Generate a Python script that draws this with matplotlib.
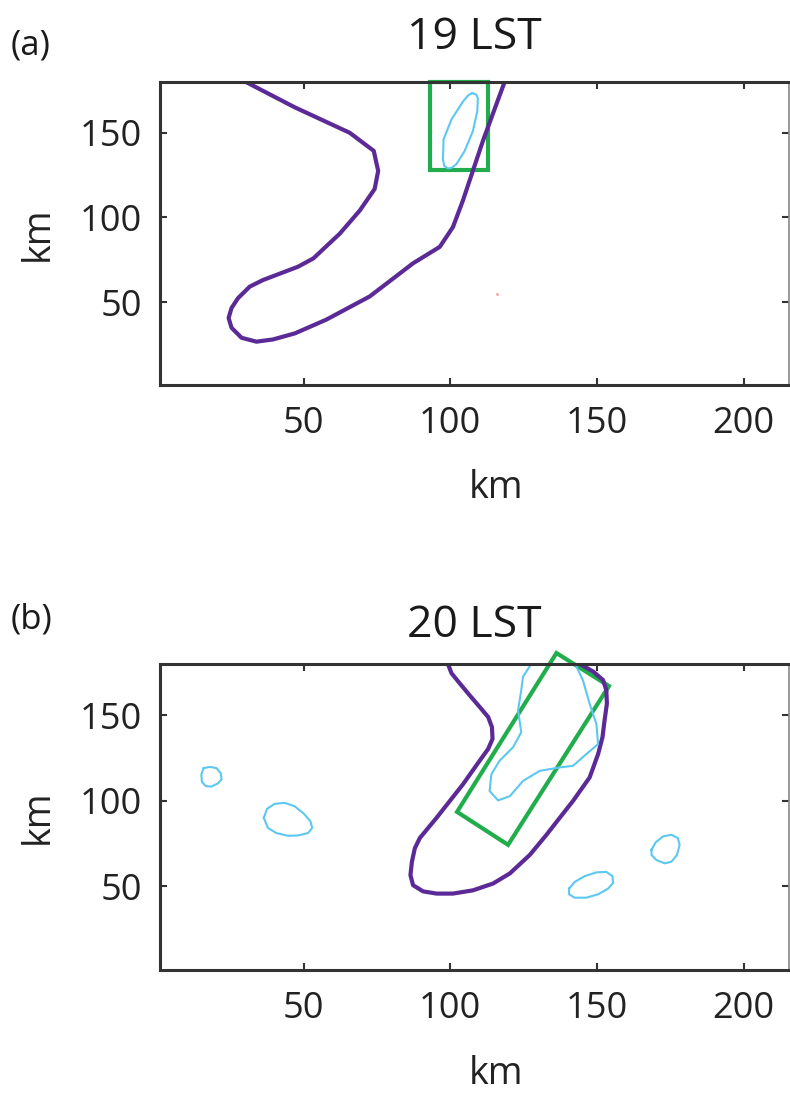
import matplotlib
matplotlib.use("Agg")
import matplotlib.pyplot as plt
from matplotlib.patches import Polygon

plt.rcParams['font.family'] = ['Open Sans', 'DejaVu Sans']

# ---- data (km) ----
xticks = [50, 100, 150, 200]
yticks = [50, 100, 150]

# (a) 19 LST
a_purple_x = [30.3, 47, 65.7, 73.9, 75.4, 74.2, 69.1, 62.3, 53.3, 48.1, 36.1, 31.6, 27.6, 25.4,
              24.4, 25.4, 28.8, 33.9, 39.5, 47.0, 57.7, 72.5, 87.3, 96.4, 100.9, 104.3, 111.1, 118.5]
a_purple_y = [180, 165, 150, 139.3, 127.5, 116.8, 104, 90.4, 75.8, 70.9, 63, 59.1, 52.3, 46.5,
              40.6, 34.8, 28.9, 26.6, 27.9, 31.5, 39.6, 53.3, 72.9, 82.6, 94.3, 110, 145.1, 180]
a_blue_x = [107.5, 108.8, 109.4, 109.2, 107.7, 104.9, 102.1, 100.5, 99.2, 97.9, 97.5, 97.7,
            100.4, 104.3, 106.2, 107.5]
a_blue_y = [173.4, 172.6, 170.5, 162.7, 151.0, 139.3, 131.5, 129.3, 128.9, 130.5, 134.4, 146.1,
            157.9, 168.4, 172.3, 173.4]
a_box_x = [93, 113, 113, 93]
a_box_y = [128, 128, 180, 180]
a_dot = (116, 54.7)

# (b) 20 LST
b_purple_x = [99.2, 100.4, 103.2, 106.6, 110, 112.9, 114.2, 114.4, 112.9, 110, 104.3, 95.3,
              89.6, 87.9, 86.9, 86.4, 87.3, 90.7, 95.3, 100.9, 107.7, 114.6, 120.3, 127.1,
              132.8, 137.3, 141.8, 147.5, 150.4, 151.9, 152.6, 153.4, 153.2, 152.1, 148.7, 144.1]
b_purple_y = [180, 174.6, 168.7, 161.7, 154.9, 149, 143.1, 136.2, 130.3, 123.4, 109.6, 90,
              78.2, 72.2, 64.3, 56.5, 50.6, 47, 45.7, 45.7, 47.6, 51.6, 57.5, 68.3,
              80.1, 90, 99.8, 113.6, 127.3, 137.2, 147, 156.8, 164.7, 170.6, 175.6, 180]
b_blue_main_x = [127.6, 124.8, 124.2, 123.1, 124.2, 121.4, 116.8, 114, 113.4, 116.3, 120.3, 124.8,
                 130.5, 137.3, 141.8, 146.4, 150.4, 149.8, 147.5, 145.2, 143.0, 142.5]
b_blue_main_y = [180, 172.6, 164.7, 152.9, 140.1, 131.3, 123.4, 115.5, 105.7, 100.2, 102.7, 111.6,
                 117.5, 119.5, 120.4, 127.3, 133.2, 145, 156.8, 170.6, 178.5, 180]
b_blob1_x = [15.9, 18.0, 20.3, 21.7, 22.0, 20.8, 18.5, 16.6, 15.3, 15.1, 15.9]
b_blob1_y = [119.1, 119.8, 119.1, 116.1, 112.6, 110.2, 108.3, 108.6, 111.0, 115.5, 119.1]
b_blob2_x = [36.4, 37.5, 40.1, 43.5, 46.9, 50.0, 52.3, 52.9, 51.5, 48.1, 44.7, 40.7, 37.8, 36.4]
b_blob2_y = [90.0, 95.3, 98.2, 98.8, 96.8, 92.5, 88.0, 84.1, 81.1, 79.7, 79.5, 81.1, 84.1, 90.0]
b_blob3_x = [140.5, 142.4, 145.8, 149.8, 153.2, 155.3, 155.5, 153.8, 150.4, 146.4, 142.4, 140.5,
             140.5]
b_blob3_y = [48.6, 52.5, 55.9, 58.1, 58.4, 55.9, 51.9, 48.6, 45.3, 43.3, 43.3, 45.3, 48.6]
b_blob4_x = [168.6, 170.0, 172.5, 175.4, 177.6, 178.2, 177.3, 175.4, 173.1, 170.3, 168.6, 168.6]
b_blob4_y = [71.3, 75.6, 79.1, 80.1, 78.2, 74.2, 68.3, 64.3, 63.4, 65.3, 68.3, 71.3]
b_box_x = [102.3, 136.2, 154.1, 119.7]
b_box_y = [93.5, 186.4, 167.1, 74.2]

PURPLE = '#5b2a97'
GREEN = '#21ad4b'
BLUE = '#5cc8f2'
SPINE = '#333333'

fig = plt.figure(figsize=(7.9, 10.95), dpi=100)


def setup(ax, title, letter, title_y, letter_y):
    ax.set_xlim(1, 215.5)
    ax.set_ylim(1, 180)
    ax.set_xticks(xticks)
    ax.set_yticks(yticks)
    ax.tick_params(direction='in', top=True, right=True, length=5, width=1.5,
                   labelsize=26, colors=SPINE, labelcolor='#222222')
    ax.tick_params(axis='x', pad=15)
    ax.tick_params(axis='y', pad=13)
    for s in ax.spines.values():
        s.set_linewidth(2.2)
        s.set_color(SPINE)
    ax.spines['right'].set_linewidth(1.2)
    ax.spines['right'].set_color('#888888')
    ax.set_xlabel('km', fontsize=27, color='#222222')
    ax.set_ylabel('km', fontsize=27, color='#222222')
    ax.xaxis.label.set_va('center')
    ax.yaxis.label.set_va('center')
    ax.xaxis.set_label_coords(0.534, -0.34)
    ax.yaxis.set_label_coords(-0.194, 0.5)
    fig.text(474 / 790, 1 - title_y / 1095, title, ha='center', va='center',
             fontsize=32, color='#1a1a1a')
    fig.text(31 / 790, 1 - letter_y / 1095, letter, ha='center', va='center',
             fontsize=25, color='#1a1a1a')


# panel (a)
ax1 = fig.add_axes([160 / 790, 1 - 385 / 1095, 629 / 790, 303 / 1095])
setup(ax1, '19 LST', '(a)', 38, 45)
ax1.plot(a_purple_x, a_purple_y, color=PURPLE, lw=3, solid_joinstyle='round', solid_capstyle='round')
ax1.plot(a_blue_x, a_blue_y, color=BLUE, lw=1.5, solid_joinstyle='round')
ax1.add_patch(Polygon(list(zip(a_box_x, a_box_y)), closed=True, fill=False,
                      edgecolor=GREEN, lw=3, clip_on=False))
ax1.plot([a_dot[0]], [a_dot[1]], marker='.', ms=2, color='#ff9999')

# panel (b)
ax2 = fig.add_axes([160 / 790, 1 - 970 / 1095, 629 / 790, 306 / 1095])
setup(ax2, '20 LST', '(b)', 626, 620)
ax2.plot(b_purple_x, b_purple_y, color=PURPLE, lw=3, solid_joinstyle='round', solid_capstyle='round')
ax2.plot(b_blue_main_x, b_blue_main_y, color=BLUE, lw=1.5, solid_joinstyle='round')
for bx, by in [(b_blob1_x, b_blob1_y), (b_blob2_x, b_blob2_y),
               (b_blob3_x, b_blob3_y), (b_blob4_x, b_blob4_y)]:
    ax2.plot(bx, by, color=BLUE, lw=1.5, solid_joinstyle='round')
ax2.add_patch(Polygon(list(zip(b_box_x, b_box_y)), closed=True, fill=False,
                      edgecolor=GREEN, lw=3, clip_on=False))

fig.savefig('out.png', dpi=100, facecolor='white')
